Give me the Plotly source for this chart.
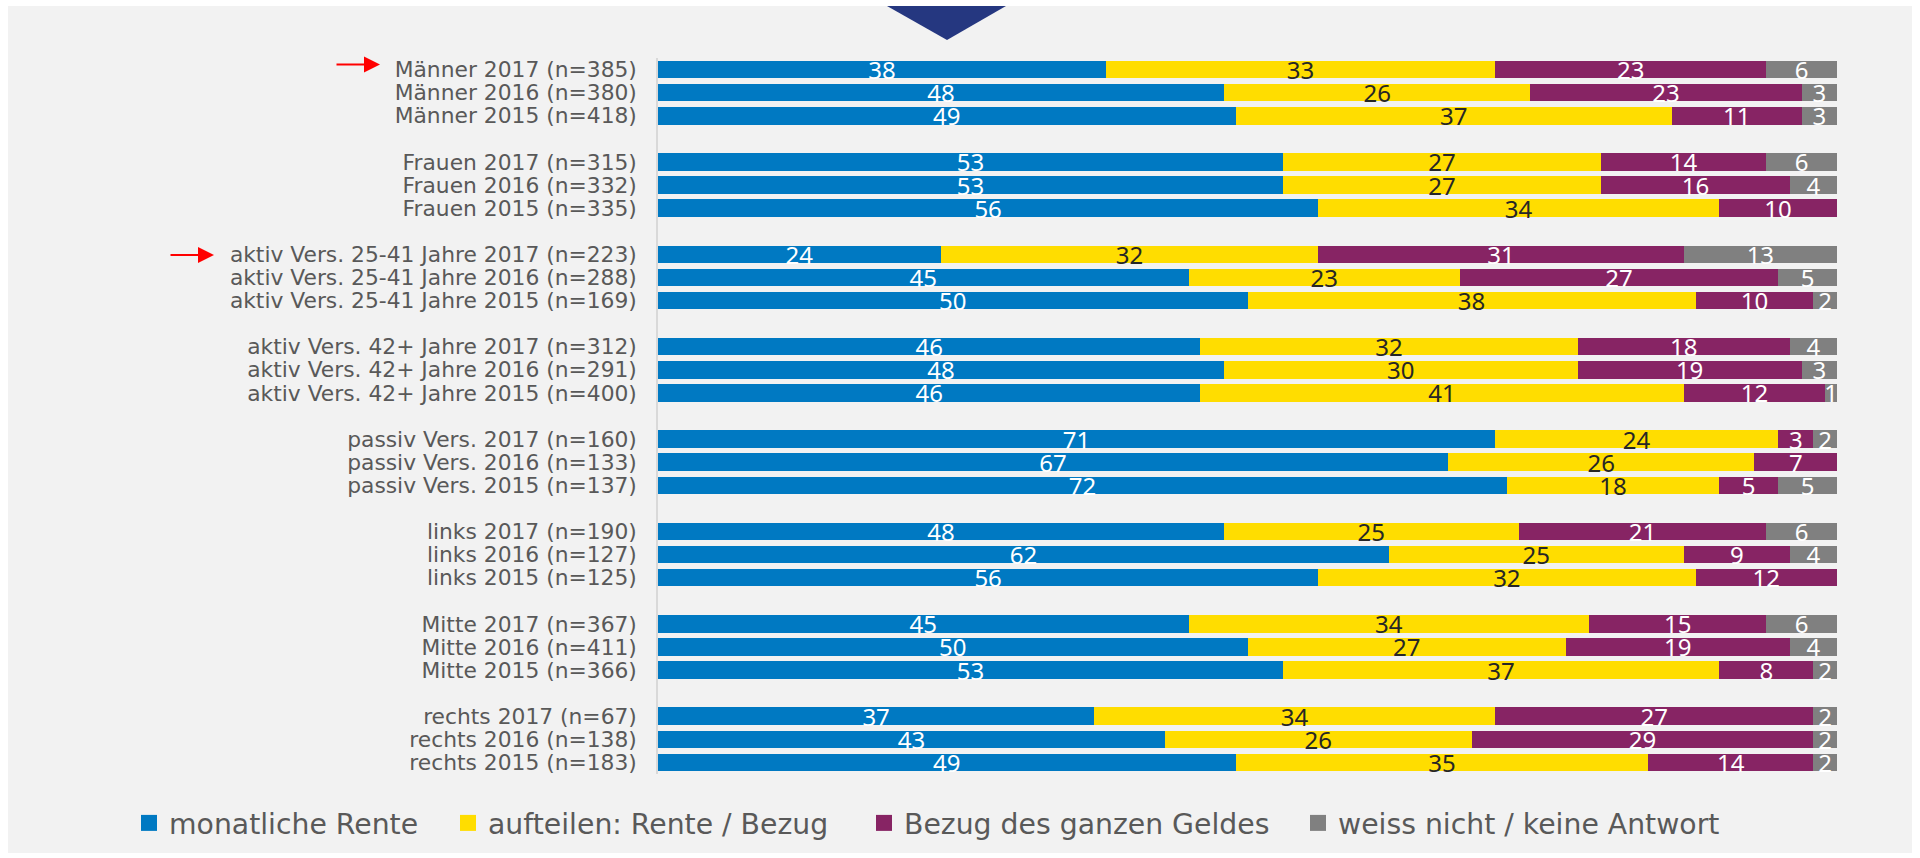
import plotly.graph_objects as go

categories = [
    "Männer 2017 (n=385)", "Männer 2016 (n=380)", "Männer 2015 (n=418)",
    "Frauen 2017 (n=315)", "Frauen 2016 (n=332)", "Frauen 2015 (n=335)",
    "aktiv Vers. 25-41 Jahre 2017 (n=223)", "aktiv Vers. 25-41 Jahre 2016 (n=288)", "aktiv Vers. 25-41 Jahre 2015 (n=169)",
    "aktiv Vers. 42+ Jahre 2017 (n=312)", "aktiv Vers. 42+ Jahre 2016 (n=291)", "aktiv Vers. 42+ Jahre 2015 (n=400)",
    "passiv Vers. 2017 (n=160)", "passiv Vers. 2016 (n=133)", "passiv Vers. 2015 (n=137)",
    "links 2017 (n=190)", "links 2016 (n=127)", "links 2015 (n=125)",
    "Mitte 2017 (n=367)", "Mitte 2016 (n=411)", "Mitte 2015 (n=366)",
    "rechts 2017 (n=67)", "rechts 2016 (n=138)", "rechts 2015 (n=183)",
]
group_size = 3

monatliche_rente = [38, 48, 49, 53, 53, 56, 24, 45, 50, 46, 48, 46, 71, 67, 72, 48, 62, 56, 45, 50, 53, 37, 43, 49]
aufteilen = [33, 26, 37, 27, 27, 34, 32, 23, 38, 32, 30, 41, 24, 26, 18, 25, 25, 32, 34, 27, 37, 34, 26, 35]
bezug_ganz = [23, 23, 11, 14, 16, 10, 31, 27, 10, 18, 19, 12, 3, 7, 5, 21, 9, 12, 15, 19, 8, 27, 29, 14]
weiss_nicht = [6, 3, 3, 6, 4, 0, 13, 5, 2, 4, 3, 1, 2, 0, 5, 6, 4, 0, 6, 4, 2, 2, 2, 2]

series_names = ["monatliche Rente", "aufteilen: Rente / Bezug", "Bezug des ganzen Geldes", "weiss nicht / keine Antwort"]
series_values = [monatliche_rente, aufteilen, bezug_ganz, weiss_nicht]
colors = ["#0079C2", "#FFDD00", "#872464", "#808080"]
text_colors = ["#FFFFFF", "#262626", "#FFFFFF", "#FFFFFF"]

# Row slots: a blank slot after each group of three
slots = [i + i // group_size for i in range(len(categories))]
n_slots = slots[-1] + 1

W, H = 1920, 858
ML, MR, MT, MB = 658, 83, 58, 84
PW, PH = W - ML - MR, H - MT - MB


def px_x(px):
    return (px - ML) / PW


def px_y(py):
    return (MT + PH - py) / PH


fig = go.Figure()
for name, vals, col, tcol in zip(series_names, series_values, colors, text_colors):
    fig.add_trace(go.Bar(
        y=slots, x=vals, orientation="h", name=name,
        marker=dict(color=col, line=dict(width=0)),
        width=0.76,
        text=[str(v) if v > 0 else "" for v in vals],
        textposition="inside", insidetextanchor="middle",
        textangle=0, constraintext="none",
        textfont=dict(family="Noto Sans", size=24, color=tcol),
        showlegend=False, hoverinfo="skip",
    ))

# legend entries (square markers)
legend_ids = ["legend", "legend2", "legend3", "legend4"]
legend_px = [141, 460, 876, 1310]
for name, col, lid in zip(series_names, colors, legend_ids):
    fig.add_trace(go.Scatter(
        x=[None], y=[None], mode="markers", name=name,
        marker=dict(symbol="square", size=16, color=col),
        legend=lid, showlegend=True, hoverinfo="skip",
    ))

legend_common = dict(
    orientation="h", yanchor="middle", xanchor="left",
    font=dict(family="DejaVu Sans", size=28.3, color="#595959"),
    bgcolor="rgba(0,0,0,0)", borderwidth=0,
)
layout_legends = {}
for lid, lx in zip(legend_ids, legend_px):
    layout_legends[lid] = dict(legend_common, x=px_x(lx - 12), y=px_y(823))

shapes = [
    # panel background
    dict(type="rect", xref="paper", yref="paper",
         x0=px_x(8), x1=px_x(1912), y0=px_y(853), y1=px_y(6),
         fillcolor="#F2F2F2", line=dict(width=0), layer="below"),
    # navy triangle marker at top
    dict(type="path", xref="paper", yref="paper",
         path=f"M {px_x(887)} {px_y(6)} L {px_x(1006)} {px_y(6)} L {px_x(947)} {px_y(40)} Z",
         fillcolor="#253780", line=dict(width=0), layer="above"),
]

annotations = [
    dict(xref="paper", yref="paper", x=px_x(380), y=px_y(64.5), ax=-45, ay=0,
         text="", showarrow=True, arrowhead=2, arrowsize=1.6, arrowwidth=2,
         arrowcolor="#FF0000", standoff=0),
    dict(xref="paper", yref="paper", x=px_x(214), y=px_y(255), ax=-45, ay=0,
         text="", showarrow=True, arrowhead=2, arrowsize=1.6, arrowwidth=2,
         arrowcolor="#FF0000", standoff=0),
]

fig.update_layout(
    width=W, height=H,
    margin=dict(l=ML, r=MR, t=MT, b=MB, autoexpand=False),
    paper_bgcolor="#FFFFFF", plot_bgcolor="rgba(0,0,0,0)",
    barmode="stack",
    shapes=shapes, annotations=annotations,
    **layout_legends,
)
fig.update_xaxes(range=[0, 100], showgrid=False, zeroline=False,
                 showticklabels=False, showline=False, fixedrange=True)
fig.update_yaxes(range=[n_slots - 0.5, -0.5], tickmode="array",
                 tickvals=slots, ticktext=categories,
                 tickfont=dict(family="DejaVu Sans", size=21.8, color="#595959"),
                 showgrid=False, zeroline=False, showline=True,
                 linecolor="#D9D9D9", linewidth=1.5, ticks="",
                 ticklabelstandoff=15, automargin=False, fixedrange=True)

fig.write_html("out.html", config={"displayModeBar": False},
               post_script="document.body.style.margin='0';")
